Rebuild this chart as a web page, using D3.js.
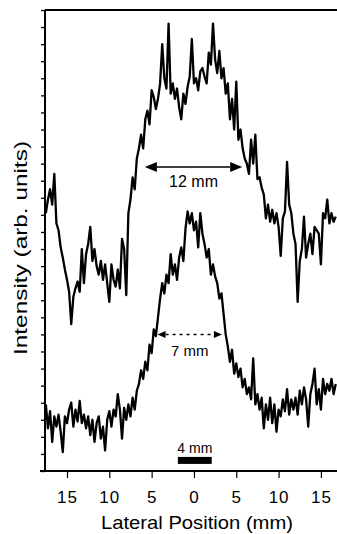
<!DOCTYPE html>
<html>
<head>
<meta charset="utf-8">
<script src="https://cdn.jsdelivr.net/npm/d3@7"></script>
<style>
  body { margin: 0; background: #fff; }
  svg { display: block; }
  text { font-family: "Liberation Sans", Arial, sans-serif; fill: #000; }
</style>
</head>
<body>
<div id="chart"></div>
<script>
// sampling grid of the scan, lateral position in mm
const positions = d3.range(-17.5, 16.76, 0.25);

// upper trace (wide beam, ~12 mm FWHM), arb. units
const wideProfile = [
  15.1, 15.9, 16.5, 15.6, 17.4, 14.5, 14.1, 13.1, 12.5, 11.8,
  11.2, 10.5, 8.6, 10.2, 10.7, 11.1, 10.5, 13.0, 11.0, 12.7,
  13.3, 14.3, 12.3, 13.0, 12.0, 11.5, 12.3, 11.2, 12.1, 11.0,
  9.9, 12.1, 11.2, 10.8, 11.8, 10.7, 13.6, 13.0, 10.3, 15.1,
  15.9, 17.2, 16.5, 18.3, 18.9, 19.7, 18.9, 20.6, 21.1, 20.3,
  22.3, 21.9, 21.2, 21.8, 22.7, 25.0, 23.0, 22.4, 26.2, 22.1,
  22.7, 21.8, 22.4, 21.3, 20.6, 22.1, 21.5, 22.5, 23.1, 25.3,
  22.7, 23.0, 22.3, 23.4, 23.6, 23.1, 22.7, 24.5, 23.8, 26.2,
  24.1, 23.3, 24.6, 23.0, 23.6, 22.1, 22.7, 20.6, 21.8, 20.0,
  22.8, 19.4, 20.0, 18.9, 18.3, 18.0, 17.4, 19.4, 18.0, 19.7,
  17.1, 17.2, 16.6, 16.2, 14.8, 15.6, 14.6, 15.3, 14.5, 15.1,
  14.3, 12.6, 14.8, 15.2, 18.1, 15.6, 15.1, 13.9, 13.3, 9.9,
  12.3, 13.0, 14.9, 12.5, 13.3, 13.9, 12.7, 14.3, 14.1, 13.9,
  12.1, 15.1, 14.8, 15.9, 14.5, 15.1, 14.6, 14.9
];

// lower trace (focused beam, ~7 mm FWHM), arb. units
const narrowProfile = [
  3.9, 2.5, 3.5, 1.7, 3.2, 2.6, 3.3, 2.3, 1.1, 3.2,
  2.8, 3.6, 4.0, 2.6, 3.6, 2.9, 4.1, 2.8, 3.3, 2.5,
  3.2, 2.1, 3.0, 1.7, 2.8, 3.2, 1.9, 2.6, 1.2, 3.0,
  3.5, 2.6, 3.6, 3.2, 4.5, 3.6, 1.9, 3.7, 3.0, 3.9,
  3.2, 4.3, 3.6, 4.7, 5.1, 5.9, 5.4, 6.4, 5.9, 7.4,
  6.9, 8.3, 7.9, 9.0, 10.1, 11.0, 10.4, 11.5, 11.0, 12.7,
  11.5, 12.1, 11.2, 12.5, 13.1, 12.3, 14.2, 15.2, 14.5, 15.1,
  14.1, 14.6, 13.1, 15.1, 13.9, 13.3, 12.5, 13.0, 11.5, 12.1,
  11.4, 11.0, 10.1, 10.4, 9.2, 8.0, 7.3, 6.4, 7.1, 5.7,
  6.3, 5.5, 6.0, 4.9, 5.4, 4.5, 4.9, 4.2, 6.6, 3.9,
  4.5, 3.6, 4.3, 2.5, 3.9, 3.0, 4.3, 2.8, 3.9, 2.3,
  3.6, 3.2, 4.2, 3.5, 4.8, 3.3, 4.2, 3.6, 4.3, 3.3,
  4.7, 3.9, 4.9, 4.2, 2.6, 4.5, 5.1, 6.0, 3.9, 4.8,
  3.6, 5.4, 4.5, 5.1, 4.7, 5.4, 4.5, 5.1
];

const xTicks = [-15, -10, -5, 0, 5, 10, 15];
const yTicks = d3.range(0, 28);

// width annotations: label, arrow ends (mm), level (arb. units)
const widthLabels = ["12 mm", "7 mm"];
const widthFrom = [-5.8, -4.3];
const widthTo = [5.7, 3.3];
const widthLevel = [17.8, 8.0];

// scale bar
const barLabel = "4 mm";
const barFrom = -1.9;
const barTo = 2.1;
const barLevel = 0.62;

const width = 337;
const height = 534;

const svg = d3.select("#chart")
  .append("svg")
  .attr("width", width)
  .attr("height", height);

const x = d3.scaleLinear().domain([-17.6, 16.9]).range([45, 337]);
const y = d3.scaleLinear().domain([0, 27]).range([471, 10]);

// frame: left, top and bottom lines
svg.append("line")
  .attr("x1", x.range()[0]).attr("x2", x.range()[0])
  .attr("y1", y(27)).attr("y2", y(0) + 1)
  .attr("stroke", "#000").attr("stroke-width", 2);
svg.append("line")
  .attr("x1", x.range()[0]).attr("x2", x.range()[1])
  .attr("y1", y(27)).attr("y2", y(27))
  .attr("stroke", "#000").attr("stroke-width", 2);
svg.append("line")
  .attr("x1", x.range()[0] - 5).attr("x2", x.range()[1])
  .attr("y1", y(0)).attr("y2", y(0))
  .attr("stroke", "#000").attr("stroke-width", 2);

// x axis, labels shown as distance from centre
const xAxis = svg.append("g")
  .attr("transform", `translate(0,${y(0)})`)
  .call(d3.axisBottom(x)
    .tickValues(xTicks)
    .tickFormat((d) => Math.abs(d))
    .tickSize(7)
    .tickSizeOuter(0)
    .tickPadding(13));
xAxis.select(".domain").remove();
xAxis.selectAll("line").attr("stroke-width", 1.2);
xAxis.selectAll("text")
  .style("font-family", "'Liberation Sans', Arial, sans-serif")
  .attr("font-size", 17)
  .attr("letter-spacing", 1);

// y axis, unlabeled ticks
const yAxis = svg.append("g")
  .attr("transform", `translate(${x.range()[0]},0)`)
  .call(d3.axisLeft(y).tickValues(yTicks).tickFormat("").tickSize(4).tickSizeOuter(0));
yAxis.select(".domain").remove();
yAxis.selectAll("line").attr("stroke-width", 1.3);

// axis titles
svg.append("text")
  .attr("x", 197)
  .attr("y", 529)
  .attr("text-anchor", "middle")
  .attr("font-size", 19)
  .attr("textLength", 192)
  .attr("lengthAdjust", "spacingAndGlyphs")
  .text("Lateral Position (mm)");

svg.append("text")
  .attr("transform", "translate(27,248) rotate(-90)")
  .attr("text-anchor", "middle")
  .attr("font-size", 19)
  .attr("textLength", 214)
  .attr("lengthAdjust", "spacingAndGlyphs")
  .text("Intensity (arb. units)");

// traces
const line = d3.line()
  .x((d, i) => x(positions[i]))
  .y((d) => y(d));

[wideProfile, narrowProfile].forEach((profile) => {
  svg.append("path")
    .datum(profile)
    .attr("fill", "none")
    .attr("stroke", "#000")
    .attr("stroke-width", 2.3)
    .attr("stroke-linejoin", "round")
    .attr("d", line);
});

// FWHM arrows
const headLen = [12, 8];
const headHalf = [5, 3.5];
const shaftDash = [null, "3,4"];
const labelSize = [16, 15];
const labelDrop = [20, 22];

widthLabels.forEach((label, i) => {
  const x0 = x(widthFrom[i]);
  const x1 = x(widthTo[i]);
  const yy = y(widthLevel[i]);
  const g = svg.append("g");
  g.append("line")
    .attr("x1", x0 + headLen[i]).attr("x2", x1 - headLen[i])
    .attr("y1", yy).attr("y2", yy)
    .attr("stroke", "#000")
    .attr("stroke-width", 1.5)
    .attr("stroke-dasharray", shaftDash[i]);
  g.append("path")
    .attr("d", `M${x0},${yy}L${x0 + headLen[i]},${yy - headHalf[i]}L${x0 + headLen[i]},${yy + headHalf[i]}Z`)
    .attr("fill", "#000");
  g.append("path")
    .attr("d", `M${x1},${yy}L${x1 - headLen[i]},${yy - headHalf[i]}L${x1 - headLen[i]},${yy + headHalf[i]}Z`)
    .attr("fill", "#000");
  g.append("text")
    .attr("x", (x0 + x1) / 2)
    .attr("y", yy + labelDrop[i])
    .attr("text-anchor", "middle")
    .attr("font-size", labelSize[i])
    .text(label);
});

// 4 mm scale bar
svg.append("rect")
  .attr("x", x(barFrom))
  .attr("y", y(barLevel) - 3.5)
  .attr("width", x(barTo) - x(barFrom))
  .attr("height", 7)
  .attr("fill", "#000");
svg.append("text")
  .attr("x", (x(barFrom) + x(barTo)) / 2)
  .attr("y", y(barLevel) - 7)
  .attr("text-anchor", "middle")
  .attr("font-size", 14)
  .text(barLabel);
</script>
</body>
</html>
